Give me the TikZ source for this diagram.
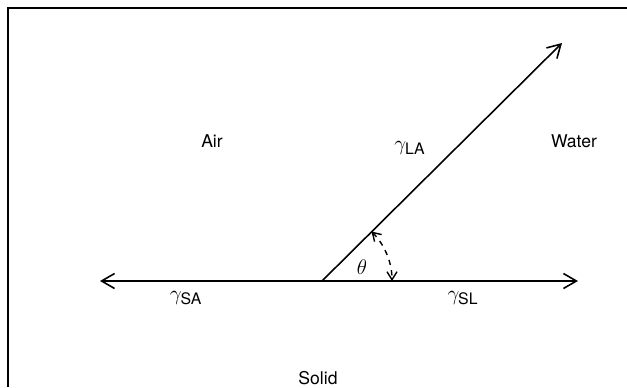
\documentclass[tikz,border=0pt]{standalone}
\usepackage{fontspec}
\setsansfont{TeX Gyre Heros}
\usetikzlibrary{positioning,arrows.meta,calc}
\tikzset{
  cw-frame/.style={draw=black, line width=1.1pt},
  cw-vec/.style={-{Straight Barb[length=2.6mm,width=3mm]}, line width=0.9pt},
  cw-angle/.style={{Straight Barb[length=1.6mm,width=2mm]}-{Straight Barb[length=1.6mm,width=2mm]},
    dashed, line width=0.8pt},
  cw-label/.style={font=\sffamily\normalsize, inner sep=1pt},
  cw-tension/.style={font=\large, inner sep=1pt}
}
\newcommand{\tens}[1]{$\gamma_{\textsf{\small #1}}$}

\begin{document}
\begin{tikzpicture}[x=0.02cm,y=0.02cm]
\useasboundingbox (0,0) rectangle (627,387);
% frame
\coordinate (fb) at (8,0);
\coordinate (fc) at (8,379);
\coordinate (fr) at (627,379);
\draw[cw-frame] (fb) -- (fc) -- (fr);

% contact point and vectors
\coordinate (O) at (322,106);
\coordinate (tipSA) at (100,106);
\coordinate (tipSL) at (578,106);
\coordinate (tipLA) at (562,344);
\draw[cw-vec] (O) -- (tipSA);
\draw[cw-vec] (O) -- (tipSL);
\draw[cw-vec] (O) -- (tipLA);

% contact angle
\coordinate (a1) at ($(O)+(45:70)$);
\coordinate (a2) at ($(O)+(0:70)$);
\draw[cw-angle] (a1) arc[start angle=45, end angle=0, radius=70];

\node[cw-label] (air) at (212,246) {Air};
\node[cw-label] (water) at (574,246) {Water};
\node[cw-label] (solid) at (318,9) {Solid};
\node[cw-tension] (gLA) at (410,239) {\tens{LA}};
\node[cw-tension] (gSA) at (186,89) {\tens{SA}};
\node[cw-tension] (gSL) at (463,89) {\tens{SL}};
\node[cw-tension] (th) at (362,120) {$\theta$};
\end{tikzpicture}
\end{document}
